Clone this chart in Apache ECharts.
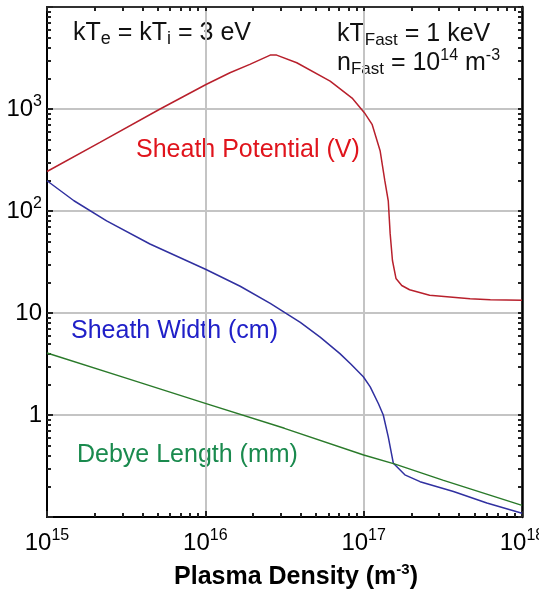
<!DOCTYPE html>
<html>
<head>
<meta charset="utf-8">
<script src="https://cdn.jsdelivr.net/npm/echarts@6/dist/echarts.min.js"></script>
<style>
html, body { margin: 0; padding: 0; background: #fff; }
#chart { width: 539px; height: 594px; }
</style>
</head>
<body>
<div id="chart"></div>
<script>
// values, x = plasma density (m^-3)
const potDensity = [1.0e15, 2.16e15, 5.18e15, 1.01e16, 1.43e16, 1.91e16, 2.57e16, 2.82e16, 3.78e16, 6.14e16,
    8.45e16, 1.01e17, 1.13e17, 1.27e17, 1.36e17, 1.43e17, 1.47e17, 1.52e17, 1.60e17, 1.74e17,
    1.95e17, 2.61e17, 4.70e17, 6.31e17, 1.0e18];
const potVolts = [244, 470, 1000, 1740, 2265, 2735, 3375, 3375, 2840, 1880,
    1280, 920, 708, 390, 198, 126, 60, 32.7, 21.8, 18.6,
    16.9, 14.9, 13.8, 13.5, 13.3];

const widthDensity = [1.0e15, 1.48e15, 2.38e15, 4.47e15, 1.01e16, 1.66e16, 2.57e16, 3.98e16, 5.31e16, 7.08e16,
    8.32e16, 9.95e16, 1.10e17, 1.24e17, 1.33e17, 1.43e17, 1.54e17, 1.82e17, 2.27e17, 3.69e17,
    6.0e17, 1.0e18];
const widthCm = [198, 126, 80, 47.5, 26.7, 18.3, 12.4, 8.1, 5.8, 4.0,
    3.15, 2.37, 1.89, 1.29, 1.0, 0.61, 0.336, 0.259, 0.222, 0.178,
    0.137, 0.109];

const debyeDensity = [1.0e15, 3.16e15, 1.0e16, 3.16e16, 1.0e17, 1.58e17, 3.16e17, 1.0e18];
const debyeMm = [4.05, 2.3, 1.3, 0.74, 0.405, 0.33, 0.23, 0.13];

const xDecades = [1e15, 1e16, 1e17, 1e18];
const yDecades = [0.1, 1, 10, 100, 1000, 10000];
const minorSteps = [2, 3, 4, 5, 6, 7, 8, 9];

const FONT = '"Liberation Sans", Arial, sans-serif';
const TICK = { color: '#222', width: 2 };

function pairs(xs, ys) {
    return xs.map((x, i) => [x, ys[i]]);
}
function minors(decades) {
    let out = [];
    decades.slice(0, -1).forEach((d) => {
        minorSteps.forEach((m) => out.push(d * m));
    });
    return out;
}
function withMajors(decades) {
    return decades.concat(minors(decades)).sort((a, b) => a - b);
}
function expOf(v) {
    return Math.round(Math.log10(v));
}

const numRich = {
    b: { fontSize: 24, lineHeight: 30, fontFamily: FONT, color: '#000' },
    s: { fontSize: 16, lineHeight: 16, verticalAlign: 'top', fontFamily: FONT, color: '#000' }
};

// overlay axes (in log10 units) that only carry the small tick marks and the frame
function tickAxis(pos, decades, values, lineColor, lineWidth) {
    return {
        type: 'value',
        position: pos,
        min: Math.log10(decades[0]),
        max: Math.log10(decades[decades.length - 1]),
        axisLine: { show: true, onZero: false, lineStyle: { color: lineColor, width: lineWidth } },
        axisTick: {
            show: true,
            inside: true,
            length: 4,
            customValues: values.map((v) => Math.log10(v)),
            lineStyle: TICK
        },
        axisLabel: { show: true, formatter: () => '' },
        splitLine: { show: false }
    };
}

const chart = echarts.init(document.getElementById('chart'));

const noteRich = {
    a: { fontSize: 25, lineHeight: 30, fontFamily: FONT, fill: '#111' },
    s: { fontSize: 18, lineHeight: 18, verticalAlign: 'bottom', fontFamily: FONT, fill: '#111' },
    f: { fontSize: 17, lineHeight: 22, verticalAlign: 'bottom', fontFamily: FONT, fill: '#111' },
    p: { fontSize: 16, lineHeight: 14, verticalAlign: 'top', fontFamily: FONT, fill: '#111' }
};

function note(x, y, text, opts) {
    return {
        type: 'text',
        x: x,
        y: y,
        silent: true,
        style: Object.assign({
            text: text,
            align: 'left',
            verticalAlign: 'middle',
            font: '25px ' + FONT,
            fill: '#111'
        }, opts || {})
    };
}

chart.setOption({
    animation: false,
    backgroundColor: '#fff',
    grid: {
        left: 47,
        right: 17,
        top: 7,
        bottom: 77,
        containLabel: false,
        outerBoundsMode: 'none'
    },
    xAxis: [
        {
            type: 'log',
            logBase: 10,
            min: 1e15,
            max: 1e18,
            position: 'bottom',
            axisLine: { onZero: false, lineStyle: { color: '#000', width: 2 } },
            axisTick: { inside: true, length: 6, lineStyle: TICK },
            axisLabel: {
                margin: 11,
                formatter: (v) => '{b|10}{s|' + expOf(v) + '}',
                rich: numRich
            },
            splitLine: { show: true, lineStyle: { color: '#c4c4c4', width: 2 } }
        },
        tickAxis('bottom', xDecades, minors(xDecades), 'rgba(0,0,0,0)', 1),
        tickAxis('top', xDecades, withMajors(xDecades), '#000', 1.5)
    ],
    yAxis: [
        {
            type: 'log',
            logBase: 10,
            min: 0.1,
            max: 10000,
            position: 'left',
            axisLine: { onZero: false, lineStyle: { color: '#000', width: 2 } },
            axisTick: { inside: true, length: 6, lineStyle: TICK },
            axisLabel: {
                margin: 5,
                formatter: (v) => {
                    let e = expOf(v);
                    if (e < 0 || e > 3) return '';
                    if (e === 0) return '{b|1}';
                    if (e === 1) return '{b|10}';
                    return '{b|10}{s|' + e + '}';
                },
                rich: numRich
            },
            splitLine: { show: true, lineStyle: { color: '#c4c4c4', width: 2 } }
        },
        tickAxis('left', yDecades, minors(yDecades), 'rgba(0,0,0,0)', 1),
        tickAxis('right', yDecades, withMajors(yDecades), '#000', 2.5)
    ],
    series: [
        {
            name: 'Sheath Potential (V)',
            type: 'line',
            data: pairs(potDensity, potVolts),
            showSymbol: false,
            silent: true,
            lineStyle: { color: '#b8202c', width: 1.5 }
        },
        {
            name: 'Sheath Width (cm)',
            type: 'line',
            data: pairs(widthDensity, widthCm),
            showSymbol: false,
            silent: true,
            lineStyle: { color: '#3030a0', width: 1.5 }
        },
        {
            name: 'Debye Length (mm)',
            type: 'line',
            data: pairs(debyeDensity, debyeMm),
            showSymbol: false,
            silent: true,
            lineStyle: { color: '#2a7a2a', width: 1.5 }
        }
    ],
    graphic: [
        note(73, 33, '{a|kT}{s|e}{a| = kT}{s|i}{a| = 3 eV}', { rich: noteRich }),
        note(337, 34, '{a|kT}{f|Fast}{a| = 1 keV}', { rich: noteRich }),
        note(337, 63, '{a|n}{f|Fast}{a| = 10}{p|14}{a| m}{p|-3}', { rich: noteRich }),
        note(136, 150, 'Sheath Potential (V)', { fill: '#e0141c' }),
        note(71, 331, 'Sheath Width (cm)', { fill: '#2020c8' }),
        note(77, 455, 'Debye Length (mm)', { fill: '#1a8a4e' }),
        note(296, 577, '{t|Plasma Density (m}{u|-3}{t|)}', {
            align: 'center',
            rich: {
                t: { fontSize: 25, fontWeight: 'bold', lineHeight: 30, fontFamily: FONT, fill: '#000' },
                u: { fontSize: 15, fontWeight: 'bold', lineHeight: 16, verticalAlign: 'top', fontFamily: FONT, fill: '#000' }
            }
        })
    ]
});
</script>
</body>
</html>
